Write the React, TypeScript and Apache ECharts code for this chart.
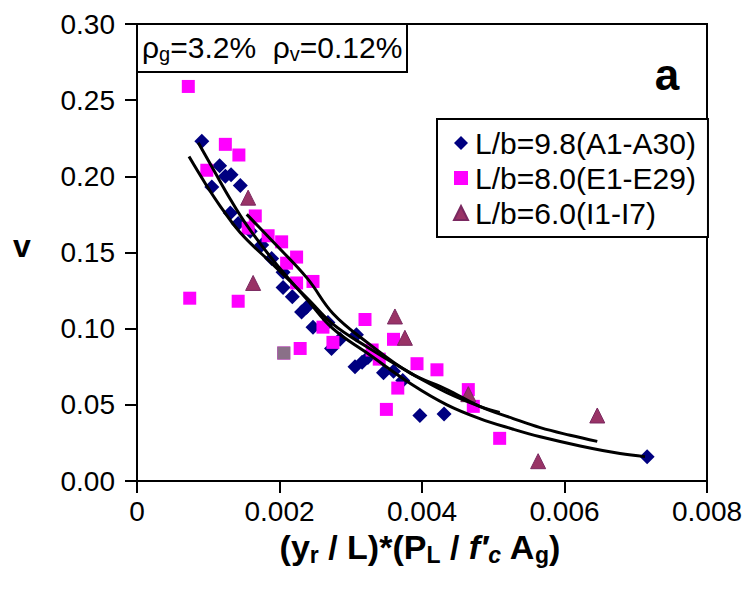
import React, { useEffect, useRef } from "react";
import * as echarts from "echarts";

// L/b=9.8 (A1-A30) – diamonds
const seriesA: [number, number][] = [
  [0.00091, 0.223], [0.00105, 0.193], [0.00116, 0.207], [0.00124, 0.2], [0.00132, 0.201],
  [0.00145, 0.194], [0.00131, 0.176], [0.00142, 0.169], [0.00159, 0.164], [0.00175, 0.155],
  [0.00189, 0.146], [0.00205, 0.137], [0.00205, 0.127], [0.00218, 0.121], [0.00231, 0.111],
  [0.00238, 0.114], [0.00247, 0.101], [0.00268, 0.104], [0.00273, 0.087], [0.00285, 0.093],
  [0.00308, 0.096], [0.00306, 0.075], [0.00316, 0.078], [0.00324, 0.081], [0.00346, 0.071],
  [0.00373, 0.066], [0.0036, 0.072], [0.00397, 0.043], [0.00431, 0.044], [0.00716, 0.016],
];

// L/b=8.0 (E1-E29) – squares
const seriesE: [number, number][] = [
  [0.00072, 0.259], [0.00074, 0.12], [0.00098, 0.204], [0.00124, 0.221], [0.00143, 0.214],
  [0.00142, 0.118], [0.00166, 0.174], [0.00203, 0.157], [0.00224, 0.147], [0.0021, 0.143],
  [0.00247, 0.131], [0.00224, 0.13], [0.00229, 0.087], [0.00206, 0.084], [0.00261, 0.101],
  [0.0032, 0.106], [0.0036, 0.093], [0.0035, 0.047], [0.00366, 0.061], [0.00393, 0.077],
  [0.00421, 0.073], [0.00465, 0.06], [0.00472, 0.049], [0.00509, 0.028], [0.00275, 0.091],
  [0.0033, 0.086], [0.00184, 0.161], [0.00156, 0.166], [0.0034, 0.08],
];

// L/b=6.0 (I1-I7) – triangles
const seriesI: [number, number][] = [
  [0.00156, 0.186], [0.00163, 0.13], [0.00362, 0.108], [0.00376, 0.094],
  [0.00465, 0.057], [0.00563, 0.013], [0.00646, 0.043],
];

// overlapping point drawn in grey in the original
const greyPoint: [number, number][] = [[0.00206, 0.084]];

// traced trend lines
const trendA: [number, number][] = [
  [0.00086, 0.222], [0.00109, 0.203], [0.00131, 0.185], [0.00154, 0.168], [0.00191, 0.145],
  [0.00239, 0.119], [0.00275, 0.1], [0.00323, 0.084], [0.00387, 0.063], [0.00435, 0.05],
  [0.00481, 0.041], [0.00528, 0.034], [0.00566, 0.029], [0.00622, 0.023], [0.00678, 0.018],
  [0.00713, 0.016],
];
const trendE: [number, number][] = [
  [0.00073, 0.213], [0.00095, 0.196], [0.00116, 0.181], [0.00145, 0.163], [0.00191, 0.142],
  [0.00239, 0.12], [0.00275, 0.103], [0.00323, 0.088], [0.00387, 0.07], [0.00435, 0.058],
  [0.00481, 0.049], [0.00509, 0.045],
];
const trendI: [number, number][] = [
  [0.00154, 0.175], [0.00191, 0.157], [0.00239, 0.133], [0.00275, 0.11], [0.00323, 0.091],
  [0.00383, 0.071], [0.00435, 0.06], [0.00481, 0.049], [0.00528, 0.041], [0.00566, 0.035],
  [0.00608, 0.03], [0.00646, 0.026],
];

const legendNames = ["L/b=9.8(A1-A30)", "L/b=8.0(E1-E29)", "L/b=6.0(I1-I7)"];
const xTicks = { min: 0, max: 0.008, interval: 0.002 };
const yTicks = { min: 0, max: 0.3, interval: 0.05 };

const FONT = "'Liberation Sans', Arial, sans-serif";

export default function App() {
  const ref = useRef<HTMLDivElement>(null);
  useEffect(() => {
    const chart = echarts.init(ref.current!, null, { renderer: "svg" });
    const lineSeries = (data: [number, number][]) => ({
      type: "line",
      data,
      smooth: 0.4,
      symbol: "none",
      silent: true,
      lineStyle: { color: "#000", width: 3 },
      z: 5,
    });
    chart.setOption({
      animation: false,
      backgroundColor: "#fff",
      textStyle: { fontFamily: FONT },
      grid: {
        left: 137, top: 24, width: 570, height: 457,
        show: true, borderColor: "#000", borderWidth: 2, backgroundColor: "transparent",
      },
      xAxis: {
        type: "value",
        ...xTicks,
        axisLine: { show: true, onZero: false, lineStyle: { color: "#000", width: 2 } },
        axisTick: { show: true, length: 12, lineStyle: { color: "#000", width: 2 } },
        splitLine: { show: false },
        axisLabel: {
          fontSize: 28, color: "#000", fontFamily: FONT, margin: 16,
          formatter: (v: number) => (v === 0 ? "0" : v.toFixed(3)),
        },
      },
      yAxis: {
        type: "value",
        ...yTicks,
        axisLine: { show: true, onZero: false, lineStyle: { color: "#000", width: 2 } },
        axisTick: { show: true, length: 12, lineStyle: { color: "#000", width: 2 } },
        splitLine: { show: false },
        axisLabel: {
          fontSize: 28, color: "#000", fontFamily: FONT, margin: 22,
          formatter: (v: number) => v.toFixed(2),
        },
      },
      legend: {
        data: legendNames,
        orient: "vertical",
        left: 437,
        top: 119,
        backgroundColor: "#fff",
        borderColor: "#000",
        borderWidth: 2,
        borderRadius: 0,
        padding: [9, 12, 9, 16],
        itemGap: 5,
        itemWidth: 14,
        itemHeight: 14,
        textStyle: { fontSize: 30, color: "#000", fontFamily: FONT, padding: [0, 0, 0, 2] },
        z: 10,
      },
      graphic: [
        {
          type: "rect",
          shape: { x: 137, y: 24, width: 270, height: 48 },
          style: { fill: "#fff", stroke: "#000", lineWidth: 2 },
          z: 20,
        },
        {
          type: "text",
          x: 142,
          y: 47,
          z: 21,
          style: {
            text: "ρ{sub|g}=3.2%  ρ{sub|v}=0.12%",
            fill: "#000",
            font: `30px ${FONT}`,
            verticalAlign: "middle",
            rich: {
              sub: { fontSize: 20, fontFamily: FONT, padding: [14, 0, 0, 0] },
            },
          },
        },
        {
          type: "text",
          x: 667,
          y: 74,
          z: 21,
          style: {
            text: "a",
            fill: "#000",
            font: `bold 44px ${FONT}`,
            align: "center",
            verticalAlign: "middle",
          },
        },
        {
          type: "text",
          x: 22,
          y: 246,
          z: 21,
          style: {
            text: "v",
            fill: "#000",
            font: `bold 32px ${FONT}`,
            align: "center",
            verticalAlign: "middle",
          },
        },
        {
          type: "text",
          x: 420,
          y: 547,
          z: 21,
          style: {
            text: "(y{sub|r} / L)*(P{sub|L} / {it|f′}{subit|c} A{sub|g})",
            fill: "#000",
            font: `bold 34px ${FONT}`,
            align: "center",
            verticalAlign: "middle",
            rich: {
              it: { fontSize: 34, fontWeight: "bold", fontStyle: "italic", fontFamily: FONT },
              sub: { fontSize: 23, fontWeight: "bold", fontFamily: FONT, padding: [16, 0, 0, 0] },
              subit: { fontSize: 23, fontWeight: "bold", fontStyle: "italic", fontFamily: FONT, padding: [16, 0, 0, 0] },
            },
          },
        },
      ],
      series: [
        {
          name: legendNames[0], type: "scatter", data: seriesA, symbol: "diamond", symbolSize: 15,
          itemStyle: { color: "#000080", opacity: 1 }, z: 2,
        },
        {
          name: legendNames[1], type: "scatter", data: seriesE, symbol: "rect", symbolSize: 13,
          itemStyle: { color: "#ff00ff", opacity: 1 }, z: 2,
        },
        {
          name: legendNames[2], type: "scatter", data: seriesI, symbol: "triangle", symbolSize: 15,
          itemStyle: { color: "#993366", borderColor: "#7a2860", borderWidth: 1, opacity: 1 }, z: 3,
        },
        {
          name: "overlap", type: "scatter", data: greyPoint, symbol: "rect", symbolSize: 13,
          itemStyle: { color: "#8a7088", opacity: 1 }, z: 3,
        },
        lineSeries(trendA),
        lineSeries(trendE),
        lineSeries(trendI),
      ],
    });
    return () => chart.dispose();
  }, []);
  return (
    <div
      ref={ref}
      style={{ position: "absolute", left: 0, top: 0, width: 748, height: 589 }}
    />
  );
}
